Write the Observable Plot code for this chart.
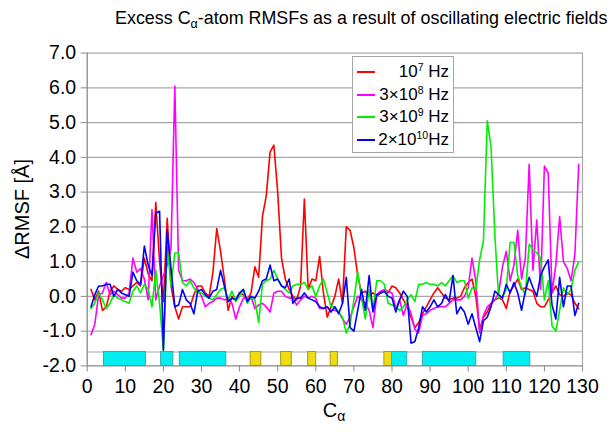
<!DOCTYPE html>
<html><head><meta charset="utf-8">
<script src="https://cdn.jsdelivr.net/npm/d3@7"></script>
<script src="https://cdn.jsdelivr.net/npm/@observablehq/plot@0.6"></script>
<style>
body{margin:0;background:#fff;font-family:"Liberation Sans",Arial,sans-serif;}
#wrap{position:relative;width:614px;height:436px;overflow:hidden;}
#title{height:40px;line-height:36px;font-size:17.9px;padding-left:115px;white-space:nowrap;color:#000;}
#title sub{font-size:0.7em;vertical-align:baseline;position:relative;top:0.3em;}
#legend{position:absolute;left:352px;top:56px;width:102px;height:97px;border:1px solid #a6a6a6;background:#fff;box-sizing:border-box;}
.row{position:absolute;left:0;right:0;height:22px;}
.swatch{position:absolute;left:4px;width:18px;top:10px;height:2px;}
.lab{position:absolute;right:4px;top:0;line-height:22px;font-size:17px;white-space:nowrap;color:#000;}
.lab sup{font-size:0.62em;vertical-align:baseline;position:relative;top:-0.55em;}
</style></head>
<body>
<div id="wrap">
  <div id="title">Excess C<sub>α</sub>-atom RMSFs as a result of oscillating electric fields</div>
  <div id="legend"></div>
</div>
<script>
// Residue index (Cα number)
const residues = d3.range(1, 130);

// ΔRMSF values [Å] per residue
const red = [0.2,-0.1,0.15,-0.4,-0.3,0.15,0.3,0.2,0.15,0.25,
0.2,0.3,0.4,0.3,1.1,0.65,0.45,2.7,1.0,-0.15,
2.25,0.3,-0.3,-0.65,-0.3,-0.3,-0.3,0.05,0.3,0.3,
0.1,0.0,0.7,1.95,1.3,0.5,-0.4,0.0,-0.1,0.1,
0.05,-0.1,0.1,0.85,0.55,2.3,2.9,4.15,4.35,3.0,
1.1,0.5,0.2,0.0,-0.1,0.3,2.8,0.2,0.5,0.45,
1.15,0.1,-0.6,-0.3,0.0,0.5,-0.2,2.0,1.9,1.4,
0.6,0.1,0.15,0.0,0.1,0.0,0.1,0.15,0.1,0.3,
0.25,0.1,-0.1,-0.3,-0.6,-0.9,-0.75,-0.5,-0.3,-0.1,
0.1,0.25,0.1,-0.05,-0.1,-0.05,-0.05,0.0,0.25,0.4,
0.5,0.0,-0.95,-0.6,-0.45,-0.2,-0.1,-0.05,-0.1,-0.35,
0.15,0.3,0.5,0.2,0.25,0.2,0.15,-0.2,-0.3,-0.3,
-0.1,0.1,0.3,0.05,0.0,0.1,0.05,-0.2,-0.35];

const magenta = [-1.1,-0.8,0.05,0.1,0.4,0.05,0.15,0.05,-0.05,-0.05,
0.1,1.1,0.7,0.8,0.5,-0.1,2.5,-0.1,0.3,0.6,
0.9,1.4,6.05,0.75,0.45,0.45,0.5,0.4,0.2,0.0,
-0.3,-0.2,-0.15,-0.05,-0.05,-0.1,-0.05,-0.2,-0.65,-0.3,
-0.05,-0.05,0.0,-0.35,-0.25,-0.2,-0.3,-0.45,0.1,0.15,
0.15,0.0,-0.05,-0.05,-0.25,-0.1,0.0,-0.05,0.0,-0.05,
-0.35,-0.35,-0.3,-0.4,-0.4,-0.45,-0.65,-0.8,-0.6,-0.3,
0.0,-0.1,-0.2,-0.4,-0.9,0.05,0.15,0.2,0.15,0.1,
-0.35,-0.1,-0.55,-0.2,-0.5,-0.95,-1.05,-0.55,-0.5,-0.4,
-0.35,-0.3,-0.3,-0.3,-0.2,-0.1,-0.1,-0.1,0.0,0.25,
1.1,0.45,-1.05,-0.55,-0.3,-0.2,-0.1,0.1,0.85,1.3,
0.45,0.9,1.9,0.5,1.1,3.8,0.75,2.2,0.2,3.75,
3.55,0.1,0.9,2.3,1.0,0.8,0.45,1.2,3.8];

const green = [-0.35,-0.2,0.1,-0.1,-0.35,-0.2,0.05,-0.05,-0.1,-0.15,
-0.2,0.15,0.3,0.1,0.35,0.2,-0.3,0.75,-0.2,-1.55,
1.45,0.3,1.25,1.25,0.4,0.3,0.45,0.25,0.1,0.1,
0.0,-0.05,-0.1,0.05,0.2,0.25,-0.1,0.15,-0.15,0.0,
0.2,-0.2,-0.05,-0.1,-0.75,0.35,0.45,0.5,0.75,0.5,
0.3,0.2,0.1,0.3,0.35,0.35,0.4,0.2,0.3,0.0,
0.3,0.5,0.1,-0.3,-0.3,-0.45,-0.6,-1.05,-0.8,-0.1,
0.7,-0.05,-0.65,0.2,-0.4,0.45,0.45,0.35,-0.2,-0.25,
-0.3,-0.4,-0.3,-0.1,0.05,-0.15,0.35,0.35,0.4,0.35,
0.35,0.3,0.4,0.3,0.45,0.6,0.4,0.45,0.45,-0.05,
0.25,0.2,1.05,1.6,5.05,4.3,1.75,-0.05,0.0,0.2,
1.55,1.55,0.6,0.25,0.05,1.5,1.35,1.25,1.1,-0.1,
0.45,-0.85,-1.0,-0.4,0.25,0.05,0.2,0.75,1.0];

const blue = [-0.3,0.05,0.3,0.3,0.35,0.35,0.0,0.2,0.1,0.05,
0.0,0.7,0.45,0.35,1.45,0.9,0.6,2.4,2.45,-1.55,
1.9,0.8,-0.3,-0.25,0.2,-0.1,-0.2,-0.5,0.15,0.2,
0.05,-0.05,0.15,0.2,0.75,0.3,-0.15,-0.05,-0.1,0.1,
0.2,-0.15,0.0,-0.05,0.15,0.45,0.5,0.9,0.45,0.5,
0.3,0.25,0.5,-0.2,-0.05,-0.05,0.1,-0.05,-0.1,-0.15,
-0.3,-0.35,-0.3,-0.45,-0.3,-0.5,-0.2,0.55,-0.9,-1.0,
-0.4,0.2,-0.4,0.6,-0.45,0.05,0.1,0.15,0.0,-0.05,
-0.45,-0.1,0.15,0.0,-1.35,-1.3,-0.9,-0.3,-0.45,-0.3,
-0.1,-0.3,-0.2,0.05,-0.15,0.6,-0.5,-0.3,-0.45,-0.8,
-0.5,-0.9,-1.3,-0.7,-0.6,-0.3,0.15,0.05,-0.05,0.35,
0.1,0.4,0.1,-0.4,0.15,0.55,0.25,0.0,0.6,0.85,
1.05,-0.25,-0.65,0.55,-0.3,0.3,0.3,-0.55,-0.2];

// Secondary structure segments (residue ranges)
const helixStart = [4.4, 19.4, 24.3, 80, 88.1, 109.3];
const helixEnd   = [15.4, 22.6, 36.5, 84, 102.1, 116.3];
const strandStart = [42.9, 50.9, 58, 63.9, 78];
const strandEnd   = [45.7, 53.7, 60.1, 65.8, 80];

// Axis ticks
const xTicks = [0,10,20,30,40,50,60,70,80,90,100,110,120,130];
const yTicks = [-2,-1,0,1,2,3,4,5,6,7];
const yGrid = [-1,0,1,2,3,4,5,6,7];
const xDomain = [0, 130];
const yDomain = [-2, 7];
const bandTop = -1.6;

// Legend labels (HTML for superscripts)
const seriesNames = ["10<sup>7</sup> Hz", "3×10<sup>8</sup> Hz", "3×10<sup>9</sup> Hz", "2×10<sup>10</sup>Hz"];
const seriesColors = ["#ff0000", "#ff00ff", "#00ee00", "#0000ff"];
const seriesValues = [red, magenta, green, blue];

const helices = helixStart.map((s, i) => ({start: s, end: helixEnd[i]}));
const strands = strandStart.map((s, i) => ({start: s, end: strandEnd[i]}));
const lineData = seriesValues.map(vals => vals.map((v, i) => ({res: residues[i], v})));

const svg = Plot.plot({
  width: 614,
  height: 396,
  marginLeft: 86.7,
  marginRight: 32,
  marginTop: 12.6,
  marginBottom: 70.6,
  x: {domain: xDomain},
  y: {domain: yDomain},
  style: {fontFamily: "'Liberation Sans', Arial, sans-serif", fontSize: "19.5px", color: "#000", background: "transparent"},
  marks: [
    Plot.gridY(yGrid, {stroke: "#a8a8a8", strokeOpacity: 1, strokeWidth: 1.2}),
    Plot.ruleX([xDomain[1]], {stroke: "#a8a8a8", strokeWidth: 1.2}),
    Plot.ruleY([bandTop], {stroke: "#a8a8a8", strokeWidth: 1.2}),
    Plot.rect(helices, {x1: "start", x2: "end", y1: yDomain[0], y2: bandTop, fill: "#00eef0", stroke: "#3aa8a8", strokeWidth: 1}),
    Plot.rect(strands, {x1: "start", x2: "end", y1: yDomain[0], y2: bandTop, fill: "#eedd11", stroke: "#a89a10", strokeWidth: 1}),
    ...lineData.map((d, i) => Plot.line(d, {x: "res", y: "v", stroke: seriesColors[i], strokeWidth: 1.6})),
    Plot.ruleX([xDomain[0]], {stroke: "#888", strokeWidth: 1.3}),
    Plot.ruleY([yDomain[0]], {stroke: "#888", strokeWidth: 1.3}),
    Plot.axisY({ticks: yTicks, tickFormat: d => d.toFixed(1), tickSize: 6, tickPadding: 5, stroke: "#888", fill: "#000", label: null, fontSize: 19.5}),
    Plot.axisX({ticks: xTicks, tickFormat: d => String(d), tickSize: 6, tickPadding: 7, stroke: "#888", fill: "#000", label: null, fontSize: 19.5})
  ]
});
document.getElementById("wrap").appendChild(svg);

const s = d3.select(svg);
s.append("text")
  .attr("transform", "translate(22,169) rotate(-90)")
  .attr("text-anchor", "middle")
  .attr("dominant-baseline", "central")
  .attr("font-size", 20)
  .attr("fill", "#000")
  .text("ΔRMSF [Å]");
const xl = s.append("text")
  .attr("x", 334).attr("y", 377)
  .attr("text-anchor", "middle")
  .attr("font-size", 20)
  .attr("fill", "#000");
xl.append("tspan").text("C");
xl.append("tspan").attr("font-size", 14).attr("dy", 4).text("α");

const legend = d3.select("#legend");
seriesNames.forEach((name, i) => {
  const row = legend.append("div").attr("class", "row").style("top", (4 + i * 22.6) + "px");
  row.append("div").attr("class", "swatch").style("background", seriesColors[i]);
  row.append("div").attr("class", "lab").html(name);
});
</script>
</body></html>
